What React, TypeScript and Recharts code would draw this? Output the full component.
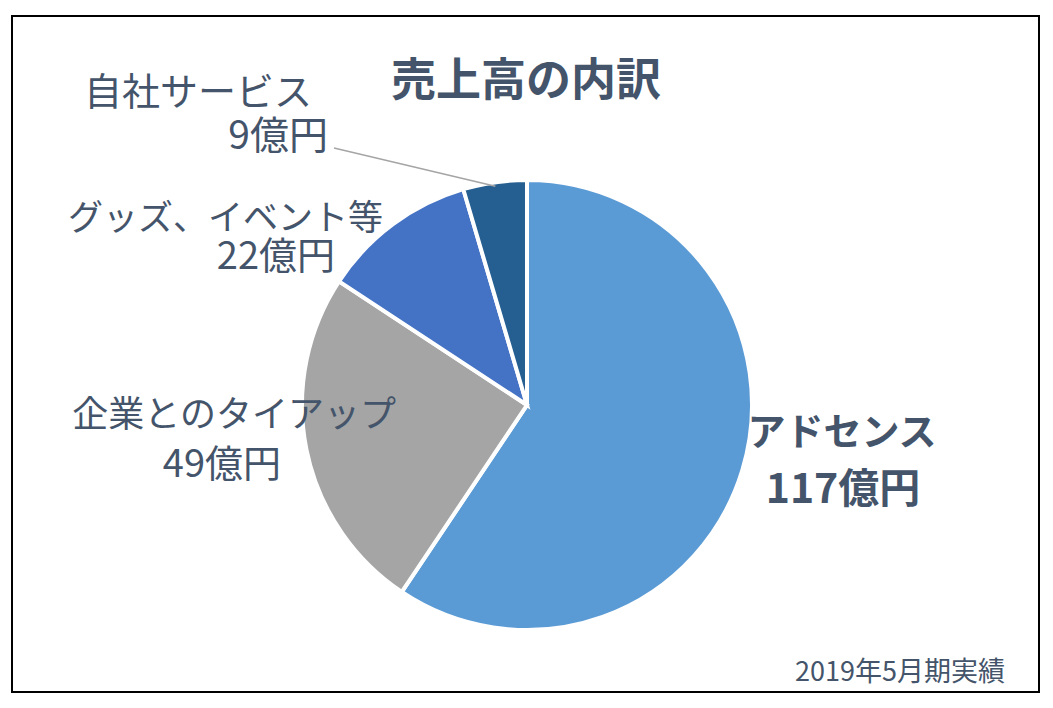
import React from 'react';
import { PieChart, Pie, Cell } from 'recharts';

// ============================================================================
// DATA
// ============================================================================

const CATEGORIES = ['アドセンス', '企業とのタイアップ', 'グッズ、イベント等', '自社サービス'];
const VALUES = [117, 49, 22, 9];
const UNIT = '億円';
const TITLE = '売上高の内訳';
const NOTE = '2019年5月期実績';

// ============================================================================
// CONSTANTS
// ============================================================================

const COLORS = ['#5B9BD5', '#A5A5A5', '#4472C4', '#255E91'];
const TEXT = '#44546A';
const FONT = '"Noto Sans CJK JP", "Noto Sans", sans-serif';
const RADIAN = Math.PI / 180;

// label placement per slice: [nameX, nameY, nameAnchor, nameSize, valueX, valueY, valueAnchor, valueSize, bold]
const LABEL_POS: [number, number, string, number, number, number, string, number, boolean][] = [
  [842, 445, 'middle', 38, 843, 503, 'middle', 41, true],
  [396, 427, 'end', 36, 281, 477, 'end', 38, false],
  [383, 230, 'end', 35, 335, 269, 'end', 38, false],
  [312, 105, 'end', 38, 328, 149, 'end', 39, false],
];

const data = CATEGORIES.map((name, i) => ({ name, value: VALUES[i] }));

const renderLabel = (props: any) => {
  const { index, cx, cy, midAngle, outerRadius } = props;
  const [nx, ny, na, ns, vx, vy, va, vs, bold] = LABEL_POS[index];
  const weight = bold ? 700 : 400;
  let connector = null;
  if (index === 3) {
    const r = outerRadius - 4;
    const ex = cx + r * Math.cos(-midAngle * RADIAN);
    const ey = cy + r * Math.sin(-midAngle * RADIAN);
    connector = (
      <polyline
        points={`${vx + 6},${vy - 1} ${ex},${ey}`}
        fill="none"
        stroke="#A5A5A5"
        strokeWidth={1.5}
      />
    );
  }
  return (
    <g>
      {connector}
      <text x={nx} y={ny} textAnchor={na as any} fill={TEXT} fontSize={ns} fontWeight={weight} fontFamily={FONT}>
        {data[index].name}
      </text>
      <text x={vx} y={vy} textAnchor={va as any} fill={TEXT} fontSize={vs} fontWeight={weight} fontFamily={FONT}>
        {data[index].value + UNIT}
      </text>
    </g>
  );
};

// ============================================================================
// COMPONENT
// ============================================================================

export default function App() {
  return (
    <div style={{ position: 'absolute', left: 0, top: 0, width: 1053, height: 708, background: '#fff' }}>
      <div
        style={{
          position: 'absolute',
          left: 11,
          top: 15,
          width: 1029,
          height: 678,
          border: '2.5px solid #000',
          boxSizing: 'border-box',
        }}
      />
      <PieChart
        width={1053}
        height={708}
        margin={{ top: 0, right: 0, bottom: 0, left: 0 }}
        style={{ position: 'absolute', left: 0, top: 0 }}
      >
        <text x={526} y={96} textAnchor="middle" fill={TEXT} fontSize={45} fontWeight={700} fontFamily={FONT}>
          {TITLE}
        </text>
        <Pie
          data={data}
          dataKey="value"
          nameKey="name"
          cx={527}
          cy={405}
          outerRadius={225}
          startAngle={90}
          endAngle={-270}
          stroke="#fff"
          strokeWidth={4}
          label={renderLabel}
          labelLine={false}
          isAnimationActive={false}
        >
          {data.map((d, i) => (
            <Cell key={d.name} fill={COLORS[i]} />
          ))}
        </Pie>
        <text x={1005} y={681} textAnchor="end" fill={TEXT} fontSize={27} fontFamily={FONT}>
          {NOTE}
        </text>
      </PieChart>
    </div>
  );
}
